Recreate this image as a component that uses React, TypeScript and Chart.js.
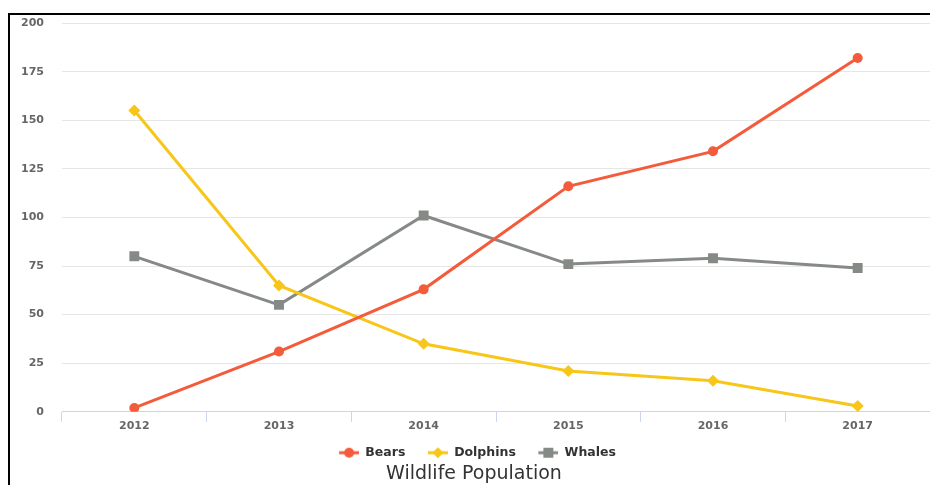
import React, { useEffect, useRef } from "react";
import { Chart, registerables } from "chart.js";

Chart.register(...registerables);

const years = ["2012", "2013", "2014", "2015", "2016", "2017"];
const bears = [2, 31, 63, 116, 134, 182];
const dolphins = [155, 65, 35, 21, 16, 3];
const whales = [80, 55, 101, 76, 79, 74];
const seriesNames = ["Bears", "Dolphins", "Whales"];
const titleText = "Wildlife Population";

const colors = ["#f45b3b", "#f7c619", "#868a86"];
const styles = ["circle", "rectRot", "rect"];
const radii = [5, 6, 7];
const FONT = "'DejaVu Sans', Verdana, sans-serif";
const ICON_W = 27;

function makeIcon(color: string, style: string) {
  const c = document.createElement("canvas");
  c.width = ICON_W;
  c.height = 12;
  const ctx = c.getContext("2d")!;
  const cx = ICON_W - 10;
  ctx.strokeStyle = color;
  ctx.fillStyle = color;
  ctx.lineWidth = 3;
  ctx.beginPath();
  ctx.moveTo(ICON_W - 20, 6);
  ctx.lineTo(ICON_W, 6);
  ctx.stroke();
  ctx.beginPath();
  if (style === "circle") {
    ctx.arc(cx, 6, 5, 0, Math.PI * 2);
  } else if (style === "rectRot") {
    ctx.moveTo(cx, 0.5);
    ctx.lineTo(cx + 5.5, 6);
    ctx.lineTo(cx, 11.5);
    ctx.lineTo(cx - 5.5, 6);
    ctx.closePath();
  } else {
    ctx.rect(cx - 5, 1, 10, 10);
  }
  ctx.fill();
  return c;
}

export default function App() {
  const ref = useRef<HTMLCanvasElement>(null);
  useEffect(() => {
    const icons = colors.map((c, i) => makeIcon(c, styles[i]));
    const data = [bears, dolphins, whales];
    const chart = new Chart(ref.current!, {
      type: "line",
      data: {
        labels: years,
        datasets: seriesNames.map((name, i) => ({
          label: name,
          data: data[i],
          borderColor: colors[i],
          backgroundColor: colors[i],
          pointStyle: styles[i] as any,
          pointRadius: radii[i],
          pointBorderWidth: 0,
          borderWidth: 3,
          tension: 0,
        })),
      },
      options: {
        animation: false,
        responsive: false,
        maintainAspectRatio: false,
        layout: { padding: 0 },
        scales: {
          x: {
            offset: true,
            grid: {
              offset: true,
              drawOnChartArea: false,
              drawTicks: true,
              tickLength: 10,
              color: "#ccd6eb",
            },
            border: { color: "#ccd6eb", width: 1 },
            ticks: {
              color: "#666666",
              font: { family: FONT, size: 11, weight: "bold" },
              padding: -2,
            },
          },
          y: {
            min: 0,
            max: 200,
            ticks: {
              stepSize: 25,
              color: "#666666",
              font: { family: FONT, size: 11, weight: "bold", lineHeight: 1.1 },
              padding: 2,
            },
            grid: {
              color: "#e6e6e6",
              drawTicks: true,
              tickLength: 16,
              tickColor: "rgba(0,0,0,0)",
              lineWidth: 1,
            },
            border: { display: false },
            afterFit: (scale: any) => {
              scale.width = 52;
            },
          },
          yRight: {
            position: "right",
            display: true,
            grid: { display: false, drawTicks: false },
            ticks: { display: false },
            border: { display: false },
            afterFit: (scale: any) => {
              scale.width = 8;
            },
          },
        },
        plugins: {
          legend: {
            position: "bottom",
            labels: {
              usePointStyle: true,
              pointStyleWidth: ICON_W,
              color: "#333333",
              font: { family: FONT, size: 12.5, weight: "bold" },
              padding: 15.5,
              generateLabels: (ch: any) => {
                const items = Chart.defaults.plugins.legend.labels.generateLabels(ch);
                return items.map((it: any, i: number) => ({
                  ...it,
                  pointStyle: icons[i],
                  rotation: 0,
                }));
              },
            },
          },
          title: {
            display: true,
            position: "bottom",
            text: titleText,
            color: "#333333",
            font: { family: FONT, size: 19, weight: "normal" },
            padding: { top: -6.4, bottom: -0.4 },
          },
          tooltip: { enabled: false },
        },
      },
    });
    return () => chart.destroy();
  }, []);
  return (
    <div
      style={{
        position: "absolute",
        left: 8,
        top: 13,
        width: 922,
        height: 472,
        borderTop: "2px solid #000",
        borderLeft: "2px solid #000",
        boxSizing: "border-box",
        overflow: "hidden",
      }}
    >
      <canvas ref={ref} width={928} height={470} style={{ display: "block" }} />
    </div>
  );
}
